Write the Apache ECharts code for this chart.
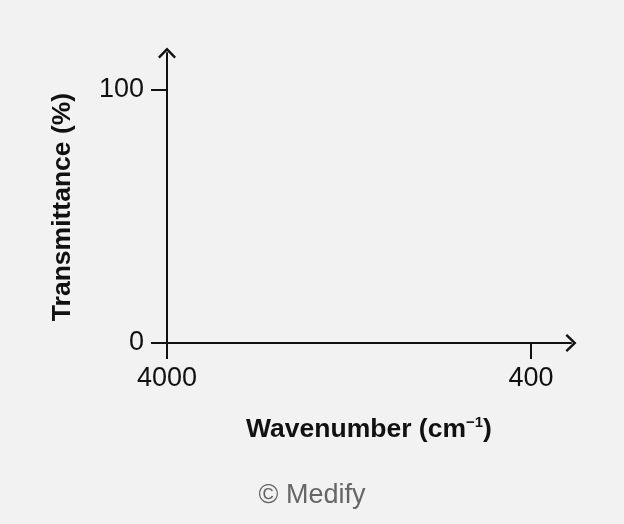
<!DOCTYPE html>
<html>
<head>
<meta charset="utf-8">
<title>IR spectrum axes</title>
<script src="https://cdn.jsdelivr.net/npm/echarts@6.0.0/dist/echarts.min.js"></script>
<style>
  html, body { margin: 0; padding: 0; background: #f2f2f2; }
  #chart { width: 624px; height: 524px; }
</style>
</head>
<body>
<div id="chart"></div>
<script>
// axis ticks shown on the empty spectrum frame
const xTicks = [4000, 400];       // wavenumber, cm^-1 (axis runs high -> low)
const yTicks = [0, 100];          // transmittance, %
const xRange = [4.4, 4000];       // axis extends a little past 400 for the arrow
const yRange = [0, 114.6];        // axis extends a little past 100 for the arrow

const FONT = "Liberation Sans";
const INK = "#111";

// open chevron used as the arrow head (points up, rotated by the axis)
const chevron = "path://M8,0 L16,8.3 L14.5,9.8 L8,3.1 L1.5,9.8 L0,8.3 Z";

const chart = echarts.init(document.getElementById("chart"));

chart.setOption({
  backgroundColor: "#f2f2f2",
  animation: false,
  title: {
    text: "© Medify",
    left: "center",
    top: 477,
    textStyle: { fontFamily: FONT, fontSize: 27, fontWeight: "normal", color: "#666" }
  },
  grid: { left: 167, right: 53, top: 53, bottom: 181 },
  xAxis: {
    type: "value",
    inverse: true,
    min: xRange[0],
    max: xRange[1],
    splitLine: { show: false },
    name: "{b|Wavenumber (cm}{s|−1}{b|)}",
    nameLocation: "middle",
    nameGap: 72,
    nameTextStyle: {
      rich: {
        b: { fontFamily: FONT, fontSize: 26.5, fontWeight: "bold", color: INK },
        s: { fontFamily: FONT, fontSize: 15, fontWeight: "bold", color: INK, verticalAlign: "top", padding: [0, 0, 14, 0] }
      }
    },
    axisLine: {
      onZero: false,
      symbol: ["none", chevron],
      symbolSize: [18, 11],
      lineStyle: { color: INK, width: 2 }
    },
    axisTick: {
      show: true,
      length: 16,
      customValues: xTicks,
      lineStyle: { color: INK, width: 2 }
    },
    axisLabel: {
      customValues: xTicks,
      formatter: v => String(v),
      margin: 22,
      fontFamily: FONT,
      fontSize: 27,
      color: INK
    }
  },
  yAxis: {
    type: "value",
    min: yRange[0],
    max: yRange[1],
    splitLine: { show: false },
    name: "Transmittance (%)",
    nameLocation: "middle",
    nameGap: 91,
    nameTextStyle: { fontFamily: FONT, fontSize: 26.5, fontWeight: "bold", color: INK, padding: [0, 0, 0, -18] },
    axisLine: {
      show: true,
      onZero: false,
      symbol: ["none", chevron],
      symbolSize: [18, 11],
      lineStyle: { color: INK, width: 2 }
    },
    axisTick: {
      show: true,
      length: 16,
      customValues: yTicks,
      lineStyle: { color: INK, width: 2 }
    },
    axisLabel: {
      customValues: yTicks,
      margin: 23,
      fontFamily: FONT,
      fontSize: 27,
      color: INK
    }
  },
  series: [{ type: "line", data: [] }]
});
</script>
</body>
</html>
